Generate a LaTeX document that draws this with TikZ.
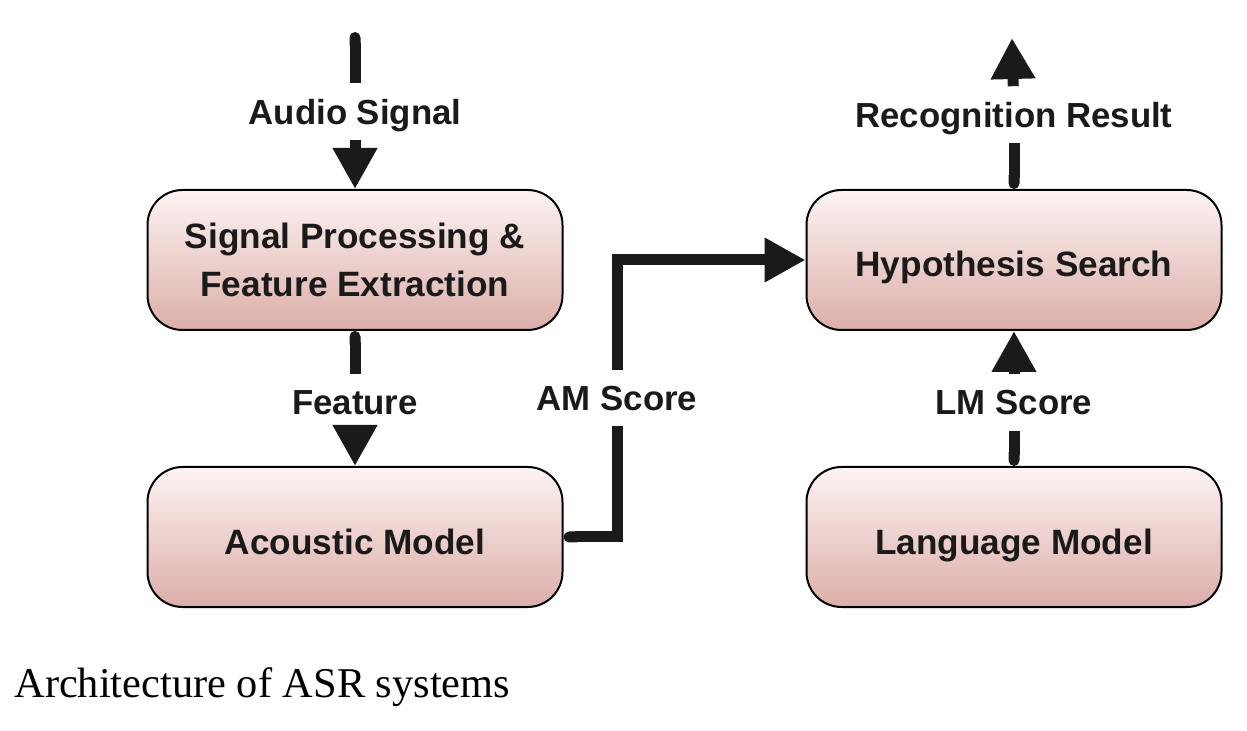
\documentclass[tikz,border=0pt]{standalone}
\usepackage{fontspec}
\setmainfont{Liberation Serif}
\setsansfont{Liberation Sans}
\usepackage{tikz}
\usetikzlibrary{arrows.meta,positioning,shapes}
\definecolor{boxtop}{RGB}{252,244,243}
\definecolor{boxbot}{RGB}{220,174,168}
\definecolor{ink}{RGB}{26,26,26}
\tikzset{
  block/.style={rectangle,rounded corners=17.5pt,draw=black,line width=1pt,
    top color=boxtop,bottom color=boxbot,
    minimum width=207.5pt,minimum height=70pt,inner sep=0pt,
    align=center,text=ink,font=\sffamily\bfseries\fontsize{17.6}{24}\selectfont},
  oneline/.style={text height=17pt,text depth=0pt},
  signal/.style={text=ink,font=\sffamily\bfseries\fontsize{17.4}{21}\selectfont,
    text height=12.5pt,text depth=0pt,inner xsep=2pt,inner ysep=7.75pt},
  flows/.style={
    every edge/.style={draw=ink,line width=5.5pt}
  },
  pipe/.style={draw=ink,line width=5.5pt},
  feed/.style={-{Triangle[length=20.5pt,width=21pt]}},
  tap/.style={arrows={{Round Cap[]}-}},
  asr/.style={x=0.5pt,y=-0.5pt,node distance=67.5pt and 121pt}
}
\begin{document}
\begin{tikzpicture}[asr]
  \useasboundingbox (0,0) rectangle (1247,731);

  \node[block] (sp) at (355,260) {Signal Processing \&\\Feature Extraction};
  \node[block,oneline] (am) [below=of sp] {Acoustic Model};
  \node[block,oneline] (hs) [right=of sp] {Hypothesis Search};
  \node[block,oneline] (lm) [below=of hs] {Language Model};

  \coordinate (src) at (355,32);
  \coordinate (out) at (1012,38);
  \node[signal] (audio) [above=24.5pt of sp] {Audio Signal};
  \node[signal] (feat) [below=21.5pt of sp] {Feature};
  \node[signal] (ams) at (617,398) {AM Score};
  \node[signal] (lms) [below=21.5pt of hs] {LM Score};
  \node[signal] (res) [above=23pt of hs] {Recognition Result};

  \path[flows]
  (src) edge[tap] (audio)
  (audio) edge[feed] (sp)
  (sp) edge[tap] (feat)
  (feat) edge[feed] (am)
  (lm) edge[tap] (lms)
  (lms) edge[feed] (hs)
  (hs) edge[tap] (res)
  (res) edge[feed] (out)
  ;
  \draw[pipe,tap] (am) -| (ams);
  \draw[pipe,feed] (ams) |- (hs);

  \node[anchor=base west,inner sep=0pt,font=\fontsize{21.2}{25}\selectfont] (cap) at (14,697) {Architecture of ASR systems};
\end{tikzpicture}
\end{document}
